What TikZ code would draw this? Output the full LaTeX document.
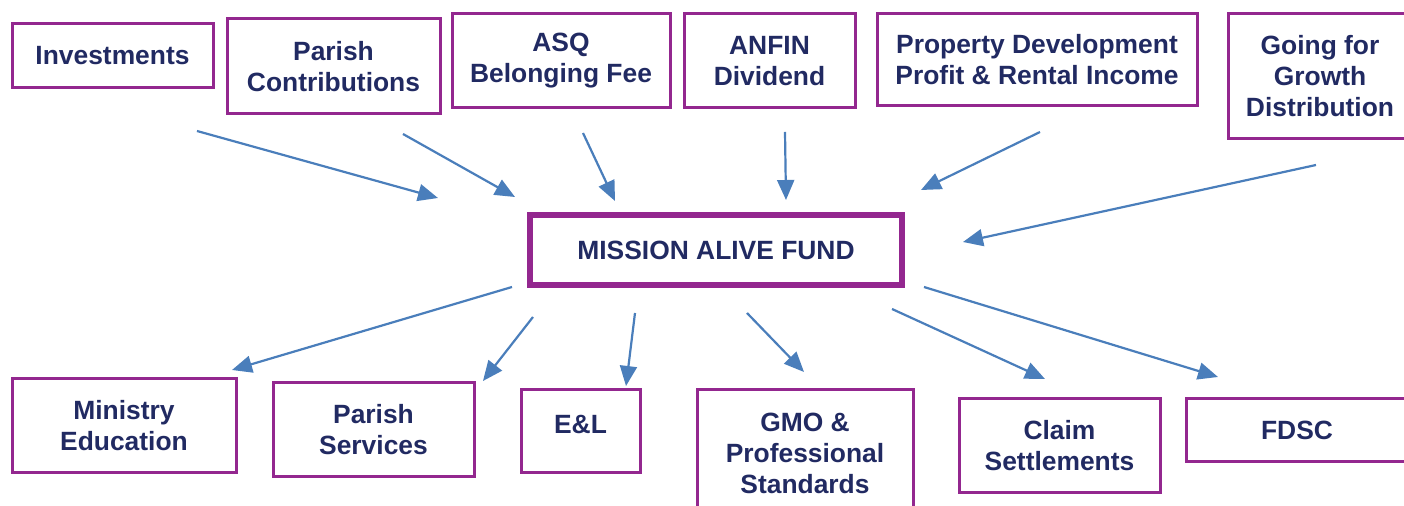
\documentclass[tikz,border=0pt]{standalone}
\usepackage{fontspec}
\setmainfont{Liberation Sans}
\usetikzlibrary{arrows.meta}
\definecolor{boxpurple}{RGB}{147,39,143}
\definecolor{navy}{RGB}{33,42,98}
\definecolor{arrowblue}{RGB}{74,126,187}
\begin{document}
\begin{tikzpicture}[x=0.5pt,y=-0.5pt,
  fbox/.style={draw=boxpurple, line width=1.5pt, text=navy,
    font=\fontsize{13.2}{15.5}\selectfont\bfseries, align=center, inner sep=0pt},
  mainbox/.style={fbox, line width=2.75pt},
  flow/.style={draw=arrowblue, line width=1.1pt, -{Triangle[length=10pt,width=8.5pt]}}]
\useasboundingbox (0,0) rectangle (1404,506);
\clip (0,0) rectangle (1404,506);
% top sources
\node[fbox, minimum width=100.5pt, minimum height=32pt] (inv) at (112.5,56) {Investments};
\node[fbox, minimum width=106.5pt, minimum height=47.5pt] (pc) at (333.5,66.5) {Parish\\Contributions};
\node[fbox, minimum width=109pt, minimum height=47pt] (asq) at (561,61) {ASQ\\Belonging Fee};
\node[fbox, minimum width=85.5pt, minimum height=47pt] (anfin) at (769.5,61) {ANFIN\\Dividend};
\node[fbox, minimum width=160pt, minimum height=46pt] (prop) at (1037,60) {Property Development\\Profit \& Rental Income};
\node[fbox, minimum width=92pt, minimum height=62.5pt] (gfg) at (1320,76.5) {Going for\\Growth\\Distribution};
% centre
\node[mainbox, minimum width=186pt, minimum height=35pt] (mf) at (716,250) {MISSION ALIVE FUND};
% bottom uses
\node[fbox, minimum width=112pt, minimum height=47pt] (min) at (124,426) {Ministry\\Education};
\node[fbox, minimum width=100.5pt, minimum height=47pt] (ps) at (373.5,430) {Parish\\Services};
\node[fbox, minimum width=59.5pt, minimum height=41.5pt, text depth=7pt] (el) at (580.5,431.5) {E\&L};
\node[fbox, minimum width=108pt, minimum height=63pt] (gmo) at (805,453) {GMO \&\\Professional\\Standards};
\node[fbox, minimum width=100.5pt, minimum height=47pt] (cs) at (1059.5,446) {Claim\\Settlements};
\node[fbox, minimum width=111pt, minimum height=31.5pt] (fdsc) at (1297,430.5) {FDSC};
% arrow end points
\coordinate (s1) at (197,131);  \coordinate (t1) at (438,198);
\coordinate (s2) at (403,134);  \coordinate (t2) at (515,197);
\coordinate (s3) at (583,133);  \coordinate (t3) at (615,201);
\coordinate (s4) at (785,132);  \coordinate (t4) at (786,200);
\coordinate (s5) at (1040,132); \coordinate (t5) at (921,190);
\coordinate (s6) at (1316,165); \coordinate (t6) at (963,242);
\coordinate (u1) at (512,287);  \coordinate (v1) at (232,370);
\coordinate (u2) at (533,317);  \coordinate (v2) at (483,381);
\coordinate (u3) at (635,313);  \coordinate (v3) at (626,386);
\coordinate (u4) at (747,313);  \coordinate (v4) at (804,372);
\coordinate (u5) at (892,309);  \coordinate (v5) at (1045,379);
\coordinate (u6) at (924,287);  \coordinate (v6) at (1218,377);
\draw[flow] (s1) -- (t1);
\draw[flow] (s2) -- (t2);
\draw[flow] (s3) -- (t3);
\draw[flow] (s4) -- (t4);
\draw[flow] (s5) -- (t5);
\draw[flow] (s6) -- (t6);
\draw[flow] (u1) -- (v1);
\draw[flow] (u2) -- (v2);
\draw[flow] (u3) -- (v3);
\draw[flow] (u4) -- (v4);
\draw[flow] (u5) -- (v5);
\draw[flow] (u6) -- (v6);
\end{tikzpicture}
\end{document}
